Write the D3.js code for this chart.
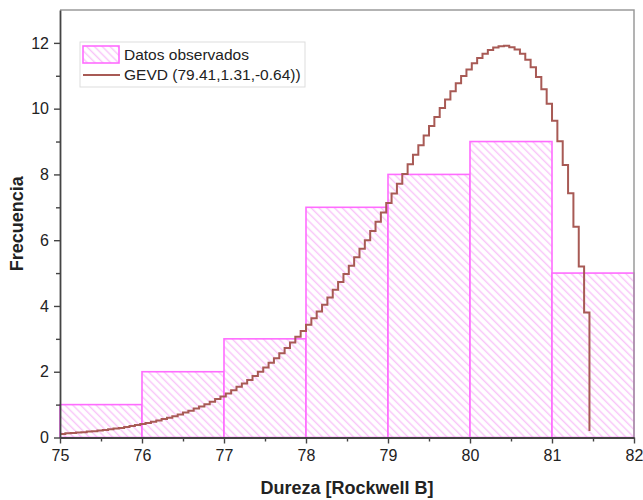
<!DOCTYPE html>
<html>
<head>
<meta charset="utf-8">
<script src="https://cdn.jsdelivr.net/npm/d3@7"></script>
<style>
  body { margin: 0; background: #fff; }
  svg text { font-family: "Liberation Sans", Arial, sans-serif; fill: #222; }
</style>
</head>
<body>
<div id="chart"></div>
<script>
// histogram bins (lower edge) and observed counts
const binStart = [75, 76, 77, 78, 79, 80, 81];
const binWidth = 1;
const counts = [1, 2, 3, 7, 8, 9, 5];

const gevStart = 75, gevStep = 0.06522;
const gevY = [
  0.11, 0.13, 0.14, 0.15, 0.16, 0.18, 0.19, 0.21, 0.23, 0.25,
  0.27, 0.29, 0.32, 0.35, 0.38, 0.41, 0.44, 0.48, 0.52, 0.56,
  0.60, 0.65, 0.70, 0.76, 0.81, 0.88, 0.94, 1.01, 1.09, 1.17,
  1.25, 1.34, 1.44, 1.54, 1.64, 1.75, 1.87, 2.00, 2.13, 2.27,
  2.41, 2.56, 2.72, 2.89, 3.06, 3.24, 3.43, 3.63, 3.83, 4.04,
  4.26, 4.49, 4.73, 4.97, 5.22, 5.48, 5.74, 6.00, 6.28, 6.56,
  6.84, 7.13, 7.42, 7.72, 8.01, 8.31, 8.60, 8.89, 9.18, 9.47,
  9.75, 10.02, 10.28, 10.53, 10.77, 10.99, 11.19, 11.38, 11.54, 11.67,
  11.78, 11.86, 11.90, 11.91, 11.87, 11.80, 11.67, 11.49, 11.26, 10.96,
  10.59, 10.15, 9.63, 9.01, 8.29, 7.43, 6.41, 5.20, 3.80, 0.20
];

const xTicks = [75, 76, 77, 78, 79, 80, 81, 82];
const xMinor = [75.5, 76.5, 77.5, 78.5, 79.5, 80.5, 81.5];
const yTicks = [0, 2, 4, 6, 8, 10, 12];
const yMinor = [1, 3, 5, 7, 9, 11];

const legendLabels = ["Datos observados", "GEVD (79.41,1.31,-0.64))"];

const width = 643, height = 500;
const margin = {left: 60, right: 9, top: 10, bottom: 62.5};
const col = {bar: "#ff6cff", hatch: "#f9c4f9", curve: "#a85a55", axis: "#444", frame: "#9a9a9a"};

const x = d3.scaleLinear().domain([75, 82]).range([margin.left, width - margin.right]);
const y = d3.scaleLinear().domain([0, 13]).range([height - margin.bottom, margin.top]);

const svg = d3.select("#chart").append("svg")
  .attr("width", width).attr("height", height);

const defs = svg.append("defs");
const pat = defs.append("pattern")
  .attr("id", "hatch")
  .attr("patternUnits", "userSpaceOnUse")
  .attr("width", 5.5).attr("height", 5.5)
  .attr("patternTransform", "rotate(-45)");
pat.append("rect").attr("width", 5.5).attr("height", 5.5).attr("fill", "#fff");
pat.append("line")
  .attr("x1", 1.5).attr("y1", 0).attr("x2", 1.5).attr("y2", 5.5)
  .attr("stroke", col.hatch).attr("stroke-width", 1.4);

// bars
const bars = binStart.map((b, i) => ({x0: b, x1: b + binWidth, n: counts[i]}));
svg.append("g").selectAll("rect").data(bars).join("rect")
  .attr("x", d => x(d.x0))
  .attr("y", d => y(d.n))
  .attr("width", d => x(d.x1) - x(d.x0))
  .attr("height", d => y(0) - y(d.n))
  .attr("fill", "url(#hatch)")
  .attr("stroke", col.bar)
  .attr("stroke-width", 1.6);

// frame (top/right)
svg.append("path")
  .attr("d", `M${x(75)},${y(13)}H${x(82)}V${y(0)}`)
  .attr("fill", "none").attr("stroke", col.frame).attr("stroke-width", 1.5);

// GEVD step curve
const gev = gevY.map((v, i) => [gevStart + i * gevStep, v]);
const line = d3.line().x(d => x(d[0])).y(d => y(d[1])).curve(d3.curveStepAfter);
svg.append("path")
  .datum(gev)
  .attr("d", line)
  .attr("fill", "none")
  .attr("stroke", col.curve)
  .attr("stroke-width", 2);

// axes
const styleAxis = g => {
  g.select(".domain").attr("stroke", col.axis).attr("stroke-width", 1.8);
  g.selectAll(".tick line").attr("stroke", col.axis).attr("stroke-width", 1.4);
  g.selectAll(".tick text").attr("font-size", 16).attr("fill", "#333")
    .attr("font-family", "Liberation Sans, Arial, sans-serif");
};

svg.append("g")
  .attr("transform", `translate(0,${y(0)})`)
  .call(d3.axisBottom(x).tickValues(xMinor).tickSize(4).tickFormat(""))
  .call(g => g.select(".domain").remove())
  .call(g => g.selectAll("line").attr("stroke", col.axis).attr("stroke-width", 1.4));
svg.append("g")
  .attr("transform", `translate(0,${y(0)})`)
  .call(d3.axisBottom(x).tickValues(xTicks).tickSize(6).tickSizeOuter(0).tickPadding(6).tickFormat(d3.format("d")))
  .call(styleAxis);

svg.append("g")
  .attr("transform", `translate(${x(75)},0)`)
  .call(d3.axisLeft(y).tickValues(yMinor).tickSize(4).tickFormat(""))
  .call(g => g.select(".domain").remove())
  .call(g => g.selectAll("line").attr("stroke", col.axis).attr("stroke-width", 1.4));
svg.append("g")
  .attr("transform", `translate(${x(75)},0)`)
  .call(d3.axisLeft(y).tickValues(yTicks).tickSize(6).tickSizeOuter(0).tickPadding(5).tickFormat(d3.format("d")))
  .call(styleAxis);

// axis titles
svg.append("text")
  .attr("x", (x(75) + x(82)) / 2).attr("y", 494)
  .attr("text-anchor", "middle")
  .attr("font-size", 18).attr("font-weight", "bold")
  .text("Dureza [Rockwell B]");
svg.append("text")
  .attr("transform", `translate(23,${y(6.5)}) rotate(-90)`)
  .attr("text-anchor", "middle")
  .attr("font-size", 18).attr("font-weight", "bold")
  .text("Frecuencia");

// legend
const lg = svg.append("g").attr("transform", "translate(80,42)");
lg.append("rect")
  .attr("width", 225).attr("height", 45)
  .attr("fill", "#fff").attr("stroke", "#ddd").attr("stroke-width", 1);
lg.append("rect")
  .attr("x", 3).attr("y", 4).attr("width", 36).attr("height", 17)
  .attr("fill", "url(#hatch)").attr("stroke", col.bar).attr("stroke-width", 1.6);
lg.append("line")
  .attr("x1", 3).attr("x2", 40).attr("y1", 33).attr("y2", 33)
  .attr("stroke", col.curve).attr("stroke-width", 2);
lg.selectAll("text.lbl").data(legendLabels).join("text")
  .attr("class", "lbl")
  .attr("x", 44).attr("y", (d, i) => 18 + i * 20)
  .attr("font-size", 15.5)
  .text(d => d);
</script>
</body>
</html>
